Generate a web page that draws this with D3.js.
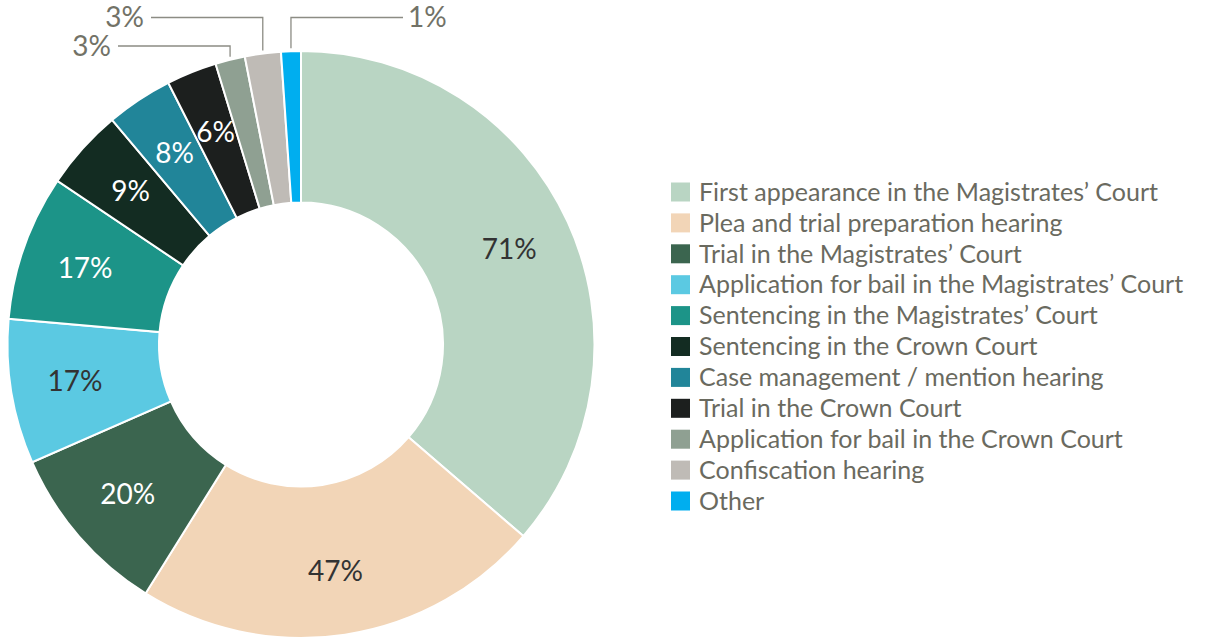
<!DOCTYPE html>
<html>
<head>
<meta charset="utf-8">
<script src="https://cdn.jsdelivr.net/npm/d3@7"></script>
<style>
  body { margin: 0; background: #fff; }
  svg { display: block; font-family: Lato, "Open Sans", sans-serif; }
</style>
</head>
<body>
<svg></svg>
<script>
// hearing types, in the order they go round the ring (clockwise from 12 o'clock)
const categories = [
  "First appearance in the Magistrates’ Court",
  "Plea and trial preparation hearing",
  "Trial in the Magistrates’ Court",
  "Application for bail in the Magistrates’ Court",
  "Sentencing in the Magistrates’ Court",
  "Sentencing in the Crown Court",
  "Case management / mention hearing",
  "Trial in the Crown Court",
  "Application for bail in the Crown Court",
  "Confiscation hearing",
  "Other"
];

// printed percentages
const percents = [71, 47, 20, 17, 17, 9, 8, 6, 3, 3, 1];

const shares = [73.4, 45.6, 19.3, 16.1, 16.2, 9.0, 7.4, 5.6, 3.3, 4.0, 2.2];

const colors = [
  "#b9d5c3", "#f2d5b7", "#3b654f", "#5bc9e2", "#1c9488", "#132c22",
  "#218599", "#1c1f1e", "#8fa092", "#bfbbb6", "#00aeef"
];

// slices whose label sits inside but in dark text
const darkText = [0, 1, 3];

const width = 1206, height = 638;
const svg = d3.select("svg")
  .attr("width", width)
  .attr("height", height);

const cx = 301, cy = 344.5;
const outerR = 293.5, innerR = 142;

const data = categories.map((c, i) => ({ name: c, pct: percents[i], share: shares[i], i: i }));

const pie = d3.pie().sort(null).value(d => d.share);
const arcs = pie(data);

const arc = d3.arc().innerRadius(innerR).outerRadius(outerR);
const labelArc = d3.arc().innerRadius(229).outerRadius(229);

const ring = svg.append("g").attr("transform", `translate(${cx},${cy})`);

ring.selectAll("path")
  .data(arcs)
  .enter().append("path")
  .attr("d", arc)
  .attr("fill", d => colors[d.data.i])
  .attr("stroke", "#fff")
  .attr("stroke-width", 2);

// labels inside the big slices
ring.selectAll(".inlabel")
  .data(arcs.filter(d => d.data.pct > 5))
  .enter().append("text")
  .attr("class", "inlabel")
  .attr("transform", d => `translate(${labelArc.centroid(d)})`)
  .attr("text-anchor", "middle")
  .attr("dy", "0.35em")
  .attr("font-size", "28px")
  .attr("fill", d => darkText.includes(d.data.i) ? "#333333" : "#ffffff")
  .text(d => d.data.pct + "%");

// leader lines for the thin slices: [slice index, y of elbow, end x of line, side]
const leaders = [
  [8, 46, 118, "left"],
  [9, 17.5, 151, "left"],
  [10, 17.5, 403, "right"]
];

leaders.forEach(([idx, ly, ex, side]) => {
  const a = arcs[idx];
  const mid = (a.startAngle + a.endAngle) / 2;
  const x0 = cx + outerR * Math.sin(mid);
  const y0 = cy - outerR * Math.cos(mid) - 3;
  svg.append("polyline")
    .attr("points", `${x0},${y0} ${x0},${ly} ${ex},${ly}`)
    .attr("fill", "none")
    .attr("stroke", "#8c8c84")
    .attr("stroke-width", 1.3);
  svg.append("text")
    .attr("x", side === "left" ? ex - 7 : ex + 5)
    .attr("y", ly)
    .attr("dy", "0.35em")
    .attr("text-anchor", side === "left" ? "end" : "start")
    .attr("font-size", "28px")
    .attr("fill", "#727267")
    .text(a.data.pct + "%");
});

// legend
const legend = svg.append("g").attr("transform", "translate(671, 192)");
const rowH = 30.9;

legend.selectAll("rect")
  .data(data)
  .enter().append("rect")
  .attr("x", 0)
  .attr("y", d => d.i * rowH - 9.5)
  .attr("width", 19)
  .attr("height", 19)
  .attr("fill", d => colors[d.i]);

legend.selectAll("text")
  .data(data)
  .enter().append("text")
  .attr("x", 28)
  .attr("y", d => d.i * rowH)
  .attr("dy", "0.35em")
  .attr("font-size", "25px")
  .attr("fill", "#6a6a5f")
  .text(d => d.name);
</script>
</body>
</html>
